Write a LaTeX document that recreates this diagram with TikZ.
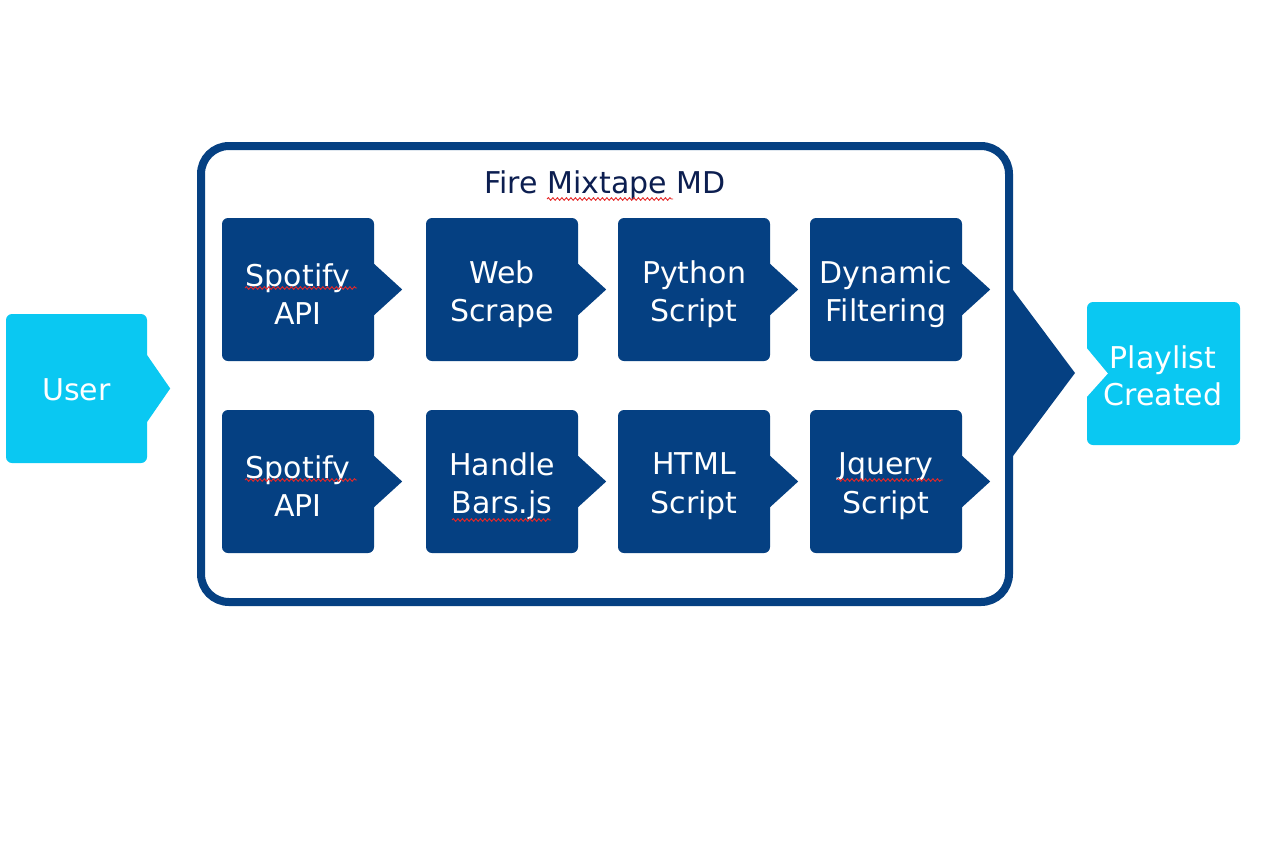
\documentclass[tikz,border=0pt]{standalone}
\usepackage{fontspec}
\setmainfont{DejaVu Sans}
\usetikzlibrary{decorations.pathmorphing,calc}
\definecolor{navy}{RGB}{5,64,130}
\definecolor{cyanb}{RGB}{10,200,242}
\definecolor{titlec}{RGB}{12,30,80}
\definecolor{squig}{RGB}{230,40,40}
\begin{document}
\begin{tikzpicture}[x=1pt,y=-1pt,
  stepbox/.style={fill=navy, rounded corners=6pt, minimum width=152pt, minimum height=143pt,
    inner sep=0pt},
  boxtext/.style={text=white, align=center, inner sep=0pt, font=\fontsize{30}{38.5}\selectfont},
  endbox/.style={fill=cyanb, rounded corners=6pt, inner sep=0pt},
  tipfill/.style={fill=navy},
  squiggle/.style={draw=squig, line width=0.9pt, decorate,
    decoration={snake, segment length=4.5pt, amplitude=1.3pt}}]
\useasboundingbox[fill=white] (0,0) rectangle (1288,854);

% frame
\node[draw=navy, line width=8pt, rounded corners=28pt, minimum width=808pt, minimum height=456pt,
  inner sep=0pt] (frame) at (605,374) {};
\fill[tipfill] ($(frame.east)+(0,-84)$) -- ($(frame.east)+(62,-1)$) -- ($(frame.east)+(0,82)$) -- cycle;
\node[text=titlec, font=\fontsize{30}{34}\selectfont] (title) at (605,185.5) {Fire Mixtape MD};

% user
\node[endbox, minimum width=141pt, minimum height=149pt] (user) at (76.5,388.5) {};
\fill[cyanb] ($(user.east)+(-0.5,-34)$) -- ($(user.east)+(23,0)$) -- ($(user.east)+(-0.5,34)$) -- cycle;
\node[boxtext] (usertxt) at (76.5,389.5) {User};

% playlist
\node[endbox, minimum width=153pt, minimum height=143pt] (play) at (1163.5,373.5) {};
\fill[white] ($(play.west)+(-1,-26.5)$) -- ($(play.west)+(21,0)$) -- ($(play.west)+(-1,24.5)$) -- cycle;
\node[boxtext, font=\fontsize{30}{37.5}\selectfont] (playtxt) at (1163,376) {Playlist\\Created};

% row 1
\node[stepbox] (a1) at (298,289.5) {};
\node[stepbox] (a2) at (502,289.5) {};
\node[stepbox] (a3) at (694,289.5) {};
\node[stepbox] (a4) at (886,289.5) {};
% row 2
\node[stepbox] (b1) at (298,481.5) {};
\node[stepbox] (b2) at (502,481.5) {};
\node[stepbox] (b3) at (694,481.5) {};
\node[stepbox] (b4) at (886,481.5) {};

\foreach \n in {a1,a2,a3,a4,b1,b2,b3,b4}{
  \fill[tipfill] ($(\n.east)+(-0.5,-26)$) -- ($(\n.east)+(28,0)$) -- ($(\n.east)+(-0.5,26)$) -- cycle;
}

\node[boxtext] (a1t) at ($(a1.center)+(0,4.5)$) {Spotify\\API};
\node[boxtext] (a2t) at ($(a2.center)+(0,4.5)$) {Web\\Scrape};
\node[boxtext] (a3t) at ($(a3.center)+(0,4.5)$) {Python\\Script};
\node[boxtext] (a4t) at ($(a4.center)+(0,4.5)$) {Dynamic\\Filtering};
\node[boxtext] (b1t) at ($(b1.center)+(0,4.5)$) {Spotify\\API};
\node[boxtext] (b2t) at ($(b2.center)+(0,4.5)$) {Handle\\Bars.js};
\node[boxtext] (b3t) at ($(b3.center)+(0,4.5)$) {HTML\\Script};
\node[boxtext] (b4t) at ($(b4.center)+(0,4.5)$) {Jquery\\Script};

% spell-check underlines
\draw[squiggle] (547,199) -- (673,199);
\draw[squiggle] (245,288) -- (357,288);
\draw[squiggle] (245,480) -- (357,480);
\draw[squiggle] (452,520) -- (551,520);
\draw[squiggle] (837,480) -- (943,480);
\end{tikzpicture}
\end{document}
